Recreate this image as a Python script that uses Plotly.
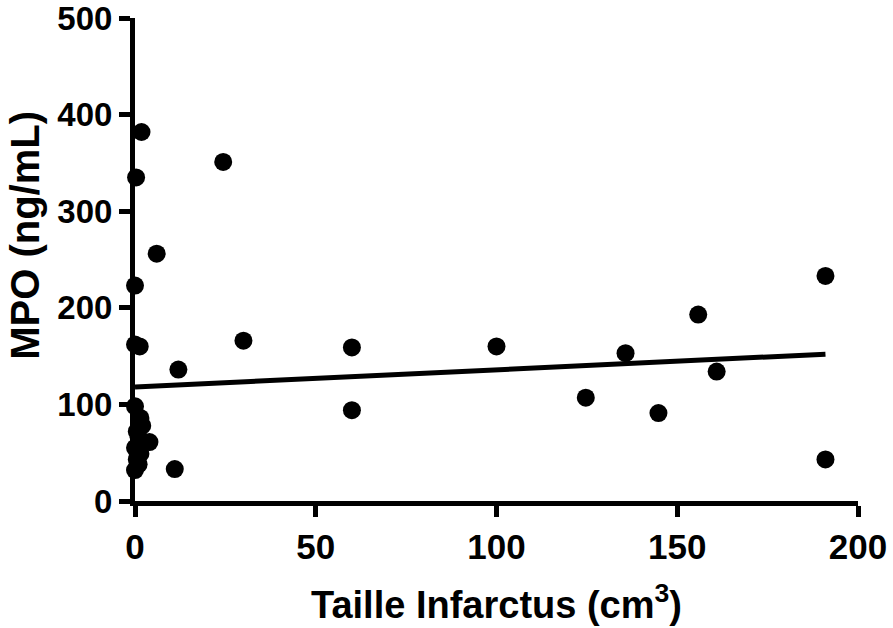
import plotly.graph_objects as go

# Data
infarct_size = [1.8, 24.4, 0.3, 6.0, 0.0, 30.0, 0.0, 1.3, 12.0, 11.0,
                0.0, 1.5, 2.0, 0.5, 1.0, 4.0, 0.0, 1.5, 0.5, 1.0, 0.0,
                60.0, 60.0, 100.0, 124.7, 135.7, 144.8, 155.8, 160.9, 191.0, 191.0]
mpo = [382, 351, 335, 256, 223, 166, 162, 160, 136, 33,
       98, 86, 78, 72, 66, 61, 55, 49, 43, 38, 32,
       159, 94, 160, 107, 153, 91, 193, 134, 233, 43]

fit_x = [0, 191]
fit_y = [118, 152]

x_ticks = [0, 50, 100, 150, 200]
y_ticks = [0, 100, 200, 300, 400, 500]

x_title = "Taille Infarctus (cm<sup>3</sup>)"
y_title = "MPO (ng/mL)"

fig = go.Figure()
fig.add_trace(go.Scatter(x=fit_x, y=fit_y, mode="lines",
                         line=dict(color="black", width=5),
                         cliponaxis=False, showlegend=False))
fig.add_trace(go.Scatter(x=infarct_size, y=mpo, mode="markers",
                         marker=dict(color="black", size=18),
                         cliponaxis=False, showlegend=False))

font_family = "Liberation Sans, Arial, sans-serif"
fig.update_layout(
    width=893, height=628,
    margin=dict(l=135, r=35, t=18, b=127),
    plot_bgcolor="white", paper_bgcolor="white",
    font=dict(family=font_family, color="black"),
)
fig.update_xaxes(
    range=[0, 200], tickvals=x_ticks, ticktext=[str(v) for v in x_ticks],
    showgrid=False, zeroline=False, showline=True, linecolor="black", linewidth=5,
    ticks="outside", ticklen=11, tickwidth=5, tickcolor="black",
    tickfont=dict(size=35, family=font_family, weight="bold"),
    title=dict(text=x_title, standoff=28,
               font=dict(size=38, family=font_family, weight="bold")),
    layer="below traces", automargin=False, ticklabeloverflow="allow",
)
fig.update_yaxes(
    range=[0, 500], tickvals=y_ticks, ticktext=[str(v) for v in y_ticks],
    showgrid=False, zeroline=False, showline=True, linecolor="black", linewidth=5,
    ticks="outside", ticklen=11, tickwidth=5, tickcolor="black",
    tickfont=dict(size=33, family=font_family, weight="bold"),
    layer="below traces", automargin=False, ticklabeloverflow="allow",
)
fig.add_annotation(
    text=y_title, textangle=-90, showarrow=False,
    xref="paper", yref="paper", x=0, y=0.549,
    xanchor="center", yanchor="middle", xshift=-110,
    font=dict(size=40, family=font_family, weight="bold", color="black"),
)

fig.write_html("out.html",
               config={"displayModeBar": False},
               post_script="document.body.style.margin='0px';"
                           "document.body.style.overflow='hidden';")
